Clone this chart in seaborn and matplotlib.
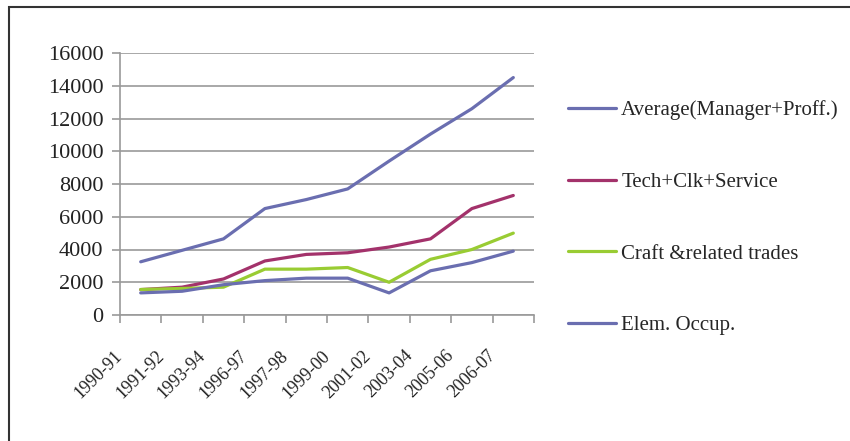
import numpy as np
import pandas as pd
import matplotlib
matplotlib.use("Agg")
import matplotlib.pyplot as plt
import matplotlib.transforms as mtransforms
from matplotlib.patches import Rectangle
import seaborn as sns

years = ['1990-91', '1991-92', '1993-94', '1996-97', '1997-98',
         '1999-00', '2001-02', '2003-04', '2005-06', '2006-07']
manager_proff = [3250, 3950, 4650, 6500, 7050, 7700, 9400, 11050, 12600, 14500]
tech_clk_service = [1550, 1700, 2200, 3300, 3700, 3800, 4150, 4650, 6500, 7300]
craft_trades = [1560, 1620, 1700, 2800, 2800, 2900, 2000, 3400, 4000, 5000]
elem_occup = [1350, 1450, 1850, 2100, 2250, 2250, 1350, 2700, 3200, 3900]

names = ['Average(Manager+Proff.)', 'Tech+Clk+Service',
         'Craft &related trades', 'Elem. Occup.']
colors = ['#6a6eb0', '#a3326b', '#99cc33', '#6a6eb0']

frames = []
for nm, vals in zip(names, [manager_proff, tech_clk_service, craft_trades, elem_occup]):
    frames.append(pd.DataFrame({'year': years, 'value': vals, 'series': nm}))
df = pd.concat(frames, ignore_index=True)

sns.set_style('white')
plt.rcParams['font.family'] = ['Liberation Serif', 'DejaVu Serif']

fig = plt.figure(figsize=(8.5, 4.41), dpi=100)
ax = fig.add_axes([120/850, 1-315/441, 414/850, 262/441])

sns.lineplot(data=df, x='year', y='value', hue='series', hue_order=names,
             palette=dict(zip(names, colors)), linewidth=2.3, sort=False, ax=ax)

ax.set_xlim(-0.5, 9.5)
ax.set_ylim(0, 16000)
ax.set_yticks(np.arange(0, 16001, 2000))
ax.grid(axis='y', color='#9a9a9a', linewidth=1.2)
ax.set_axisbelow(True)
ax.set_xlabel('')
ax.set_ylabel('')

for s in ['top', 'right']:
    ax.spines[s].set_visible(False)
for s in ['left', 'bottom']:
    ax.spines[s].set_color('#9a9a9a')
    ax.spines[s].set_linewidth(1.2)

ax.tick_params(axis='both', direction='out', length=6, width=1.2,
               color='#9a9a9a', labelsize=16, labelcolor='#222222')
ax.tick_params(axis='y', pad=6, left=True)
ax.tick_params(axis='x', bottom=True, labelsize=13)

# category labels sit on the boundary ticks, shifted like the original
ax.set_xticks(np.arange(-0.5, 10, 1.0))
ax.set_xticklabels(years + [''], rotation=45, ha='right', va='center',
                   rotation_mode='anchor')
offset = mtransforms.ScaledTranslation(0.0, -0.25, fig.dpi_scale_trans)
for lbl in ax.get_xticklabels():
    lbl.set_transform(lbl.get_transform() + offset)

handles, labels = ax.get_legend_handles_labels()
ax.legend(handles, labels, loc='center left', bbox_to_anchor=(568/850, 1-218/441),
          bbox_transform=fig.transFigure, frameon=False, fontsize=15,
          handlelength=2.3, handletextpad=0.25, labelspacing=2.5,
          borderaxespad=0, borderpad=0)

# outer frame, cut off at right and bottom
fig.patches.append(Rectangle((9/850, -0.2), 2.0, 1.2 - 7/441, transform=fig.transFigure,
                             fill=False, edgecolor='#333333', linewidth=1.5))

fig.savefig('out.png', dpi=100)
